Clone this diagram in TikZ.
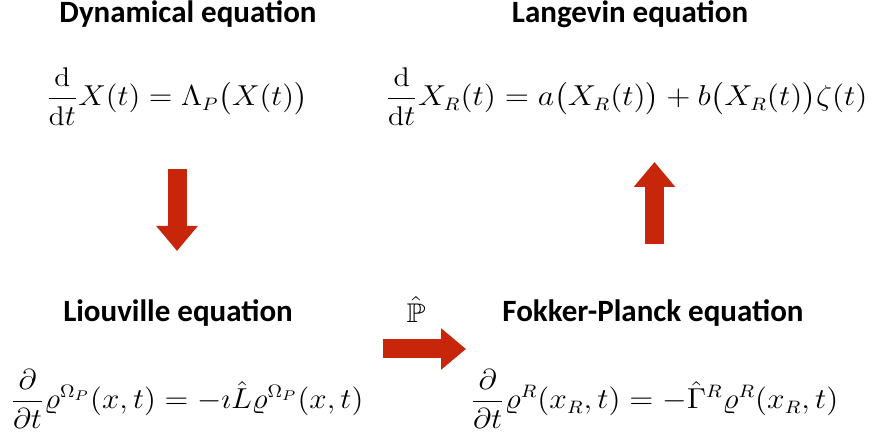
\documentclass[tikz,border=0pt]{standalone}
\usepackage{fontspec}
\newfontfamily\titlefont{Carlito}
\usepackage{amsmath}
\usepackage{amssymb}
\usepackage{xcolor}
\usetikzlibrary{arrows.meta, positioning}
\definecolor{flowred}{RGB}{200,38,10}
% equation stretched to a given width, natural height
\newcommand\fiteq[2]{\resizebox{#1}{\height}{$\displaystyle #2$}}

\begin{document}
\begin{tikzpicture}[
    x=0.5pt, y=-0.5pt,
    title/.style={font=\titlefont\bfseries\fontsize{15.5}{18}\selectfont, anchor=base, inner sep=0pt},
    eqn/.style={font=\fontsize{13.5}{16}\selectfont, anchor=base west, inner sep=0pt},
    flow/.style={-{Triangle[length=12.5pt, width=20pt]}, line width=9.5pt, flowred},
]
\useasboundingbox (0,0) rectangle (872,442);

% Titles
\node[title] (dyn) at (188, 23) {Dynamical equation};
\node[title] (lan) at (630, 23) {Langevin equation};
\node[title] (liu) at (178, 322) {Liouville equation};
\node[title] (fok) at (653, 322) {Fokker-Planck equation};

% Equations
\node[eqn] (dyneq) at (46, 106) {\fiteq{130.5pt}{\frac{\mathrm{d}}{\mathrm{d}t}X(t)=\Lambda_P\bigl(X(t)\bigr)}};
\node[eqn] (laneq) at (385, 106) {\fiteq{241pt}{\frac{\mathrm{d}}{\mathrm{d}t}X_R(t)=a\bigl(X_R(t)\bigr)+b\bigl(X_R(t)\bigr)\zeta(t)}};
\node[eqn] (liueq) at (10, 409) {\fiteq{176.5pt}{\frac{\partial}{\partial t}\varrho^{\Omega_P}(x,t)=-\imath\hat{L}\varrho^{\Omega_P}(x,t)}};
\node[eqn] (fokeq) at (470, 409) {\fiteq{184pt}{\frac{\partial}{\partial t}\varrho^{R}(x_R,t)=-\hat{\Gamma}^R\varrho^{R}(x_R,t)}};

% Projection label
\node[eqn, anchor=base] (proj) at (416, 323) {\scalebox{1.15}[1]{$\hat{\mathbb{P}}$}};

% Arrow ends
\coordinate (d1) at (177, 169);
\coordinate (d2) at (177, 251);
\coordinate (r1) at (383, 349);
\coordinate (r2) at (466, 349);
\coordinate (u1) at (654.5, 244);
\coordinate (u2) at (654.5, 162);

\draw[flow] (d1) -- (d2);
\draw[flow] (r1) -- (r2);
\draw[flow] (u1) -- (u2);

\end{tikzpicture}
\end{document}
